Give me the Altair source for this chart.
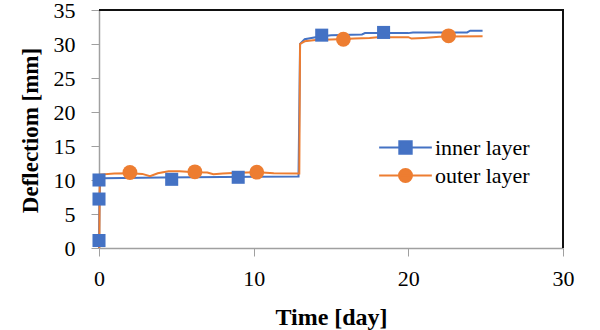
import altair as alt
import pandas as pd

# ---- data ----
inner_t = [0, 0.0, 0.03, 0.08, 0.3, 4.0, 8.0, 12.9, 13.0, 13.3, 14.0, 15.0, 17.0, 17.2, 20.0, 20.3, 23.8, 24.0, 24.8]
inner_v = [0, 1.1, 7.2, 10.0, 10.25, 10.35, 10.45, 10.5, 30.0, 30.7, 31.0, 31.3, 31.4, 31.6, 31.6, 31.7, 31.7, 31.95, 31.95]
outer_t = [0.02, 0.05, 1.0, 2.0, 2.8, 3.3, 3.8, 4.5, 5.2, 6.2, 7.0, 7.4, 8.0, 9.0, 10.3, 11.3, 12.95, 13.0, 13.3, 14.0, 15.5, 16.5, 17.5, 18.0, 20.0, 20.2, 21.0, 22.0, 22.6, 24.8]
outer_v = [0, 10.8, 10.95, 11.0, 10.9, 10.55, 11.0, 11.3, 11.3, 11.15, 11.1, 10.85, 10.95, 11.05, 11.15, 11.0, 10.95, 30.0, 30.4, 30.6, 30.7, 30.8, 30.9, 31.0, 31.0, 30.8, 30.9, 31.05, 31.1, 31.15]
inner_mt = [0, 0, 0, 4.7, 9.0, 14.4, 18.4]
inner_mv = [1.1, 7.2, 10.0, 10.1, 10.4, 31.3, 31.7]
outer_mt = [2.0, 6.2, 10.2, 15.8, 22.6]
outer_mv = [11.1, 11.2, 11.15, 30.7, 31.2]
series = ["inner layer", "outer layer"]
x_ticks = [0, 10, 20, 30]
y_ticks = [0, 5, 10, 15, 20, 25, 30, 35]
x_range = [0, 30]
y_range = [0, 35]

BLUE = "#4472C4"
ORANGE = "#ED7D31"
GRAY = "#A0A0A0"
DARK = "#111111"
FONT = "Liberation Serif"

inner_line = pd.DataFrame({"t": inner_t, "v": inner_v})
outer_line = pd.DataFrame({"t": outer_t, "v": outer_v})
inner_pts = pd.DataFrame({"t": inner_mt, "v": inner_mv, "s": series[0]})
outer_pts = pd.DataFrame({"t": outer_mt, "v": outer_mv, "s": series[1]})
all_pts = pd.concat([inner_pts, outer_pts], ignore_index=True)
# frame corner path: top-left -> top-right -> bottom-right
frame = pd.DataFrame({"t": [float(x_range[0]), float(x_range[1]), float(x_range[1])],
                      "v": [float(y_range[1]), float(y_range[1]), float(y_range[0])],
                      "k": [0, 1, 2]})

xscale = alt.Scale(domain=x_range, nice=False, zero=False)
yscale = alt.Scale(domain=y_range, nice=False)

xaxis = alt.Axis(values=x_ticks, grid=False, domainColor=GRAY, tickColor=GRAY, tickSize=8,
                 domainWidth=1.5,
                 labelFont=FONT, labelFontSize=22, labelColor="black", labelPadding=12,
                 labelOverlap=False, labelFlush=False,
                 title="Time [day]", titleFont=FONT, titleFontSize=24, titleFontWeight="bold",
                 titleColor="black", titleY=57)
yaxis = alt.Axis(values=y_ticks, grid=False, domainColor=GRAY, tickColor=GRAY, tickSize=8,
                 domainWidth=1.5,
                 labelFont=FONT, labelFontSize=22, labelColor="black", labelPadding=16,
                 labelOverlap=False, labelFlush=False,
                 title="Deflectiom [mm]", titleFont=FONT, titleFontSize=23, titleFontWeight="bold",
                 titleColor="black", titleX=-57, titleY=120)

xe = alt.X("t:Q", scale=xscale, axis=xaxis)
ye = alt.Y("v:Q", scale=yscale, axis=yaxis)

# dark top and right edges of the plot frame, drawn as one path through the scales
f_frame = alt.Chart(frame).mark_line(color=DARK, strokeWidth=2, clip=False).encode(
    x=xe, y=ye, order=alt.Order("k:Q"))

l_inner = alt.Chart(inner_line).transform_window(idx="row_number()").mark_line(
    color=BLUE, strokeWidth=2).encode(x=xe, y=ye, order=alt.Order("idx:Q"))
l_outer = alt.Chart(outer_line).transform_window(idx="row_number()").mark_line(
    color=ORANGE, strokeWidth=2).encode(x=xe, y=ye, order=alt.Order("idx:Q"))
p_inner = alt.Chart(inner_pts).mark_point(shape="square", filled=True, opacity=1, color=BLUE, size=170).encode(
    x=xe, y=ye)
p_outer = alt.Chart(outer_pts).mark_point(shape="circle", filled=True, opacity=1, color=ORANGE, size=220).encode(
    x=xe, y=ye)

sq_path = "M-1.7,0H1.7M-0.4,-0.4H0.4V0.4H-0.4Z"
ci_path = "M-1.7,0H1.7M0.42,0A0.42,0.42 0 1,1 -0.42,0A0.42,0.42 0 1,1 0.42,0Z"
leg = alt.Legend(orient="none", legendX=290, legendY=121, title=None,
                 labelFont=FONT, labelFontSize=22, labelColor="black",
                 labelOffset=13, symbolSize=961, rowPadding=0, padding=0,
                 symbolStrokeWidth=2, symbolOpacity=1)
legend_layer = alt.Chart(all_pts).transform_filter("datum.t < -100").mark_point(
    filled=True, opacity=1, strokeWidth=2).encode(
    x=xe, y=ye,
    color=alt.Color("s:N", scale=alt.Scale(domain=series, range=[BLUE, ORANGE]), legend=leg),
    stroke=alt.Stroke("s:N", scale=alt.Scale(domain=series, range=[BLUE, ORANGE]), legend=leg),
    shape=alt.Shape("s:N", scale=alt.Scale(domain=series, range=[sq_path, ci_path]), legend=leg),
)

chart = alt.layer(l_inner, l_outer, p_inner, p_outer, legend_layer, f_frame).properties(
    width=464, height=238,
    padding={"left": 99, "top": 10, "right": 37, "bottom": 82},
    autosize=alt.AutoSizeParams(type="none"),
    background="white",
).configure_view(stroke=None).configure_axis(labelOverlap=False)

chart.save("out.html", embed_options={"renderer": "svg", "actions": False})
